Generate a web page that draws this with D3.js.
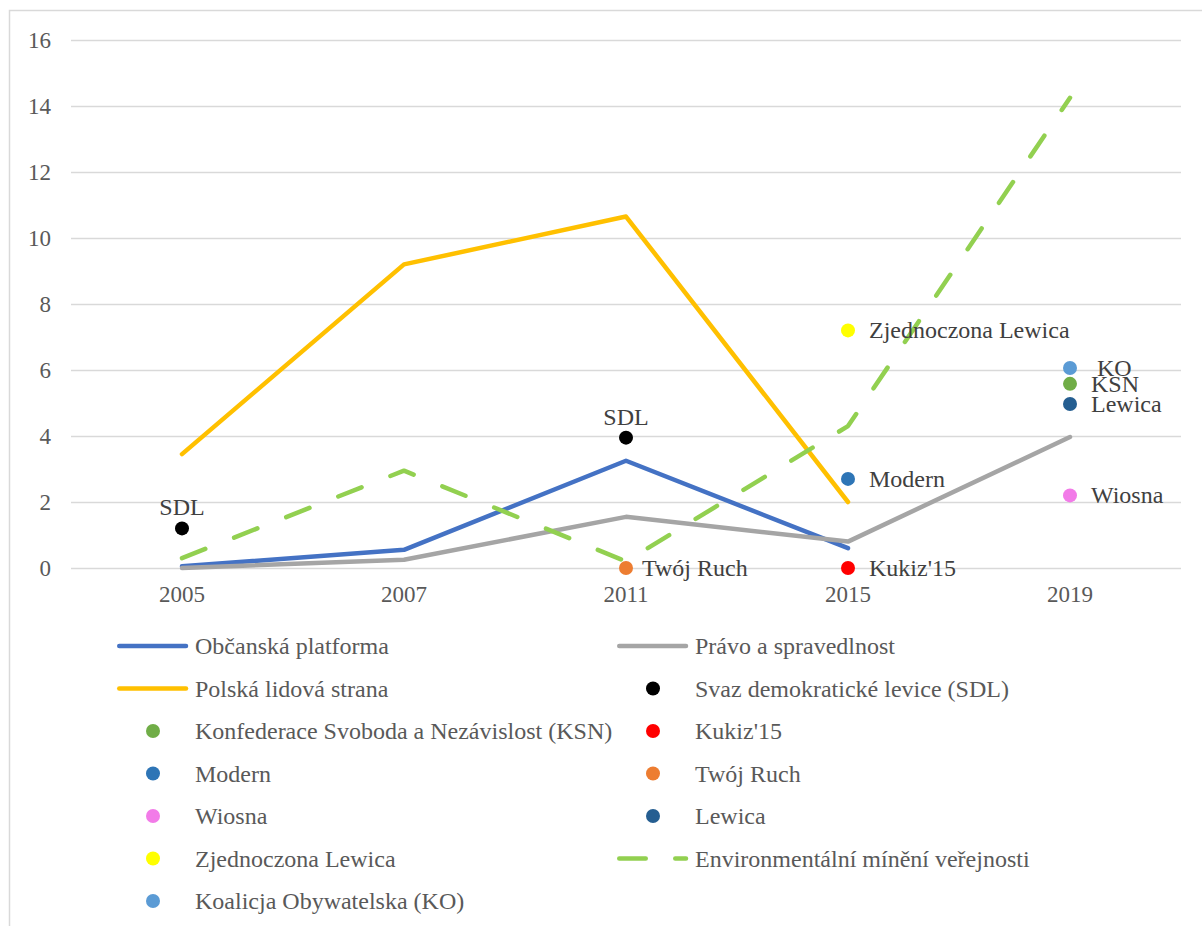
<!DOCTYPE html>
<html>
<head>
<meta charset="utf-8">
<script src="https://cdnjs.cloudflare.com/ajax/libs/d3/7.8.5/d3.min.js"></script>
<style>
  html, body { margin: 0; padding: 0; background: #fff; }
  svg { display: block; }
  text { font-family: "Liberation Serif", "Times New Roman", serif; white-space: pre; }
</style>
</head>
<body>
<svg id="chart" width="1202" height="926"></svg>
<script>
// ---------- DATA ----------
const categories = ["2005", "2007", "2011", "2015", "2019"];
const yTicks = [0, 2, 4, 6, 8, 10, 12, 14, 16];

const obcanskaPlatforma = [0.05, 0.55, 3.25, 0.6, null];
const pravoASpravedlnost = [0.0, 0.25, 1.55, 0.8, 3.97];
const polskaLidovaStrana = [3.45, 9.2, 10.65, 2.0, null];
const environmentalni = [0.3, 2.95, 0.2, 4.3, 14.25];

const sdl = [1.2, null, 3.95, null, null];
const ksn = [null, null, null, null, 5.58];
const kukiz = [null, null, null, 0.0, null];
const modern = [null, null, null, 2.7, null];
const twojRuch = [null, null, 0.0, null, null];
const wiosna = [null, null, null, null, 2.2];
const lewica = [null, null, null, null, 4.97];
const zjednoczona = [null, null, null, 7.2, null];
const ko = [null, null, null, null, 6.06];

const legendNames = [
  "Občanská platforma", "Právo a spravedlnost",
  "Polská lidová strana", "Svaz demokratické levice (SDL)",
  "Konfederace Svoboda a Nezávislost (KSN)", "Kukiz'15",
  "Modern", "Twój Ruch",
  "Wiosna", "Lewica",
  "Zjednoczona Lewica", "Environmentální mínění veřejnosti",
  "Koalicja Obywatelska (KO)"
];

// point series labels
const pointLabels = {
  sdl: "SDL", ksn: "KSN", kukiz: "Kukiz'15", modern: "Modern", twojRuch: "Twój Ruch",
  wiosna: "Wiosna", lewica: "Lewica", zjednoczona: "Zjednoczona Lewica", ko: "\u00a0KO"
};

// ---------- STYLE ----------
const colors = {
  obcanska: "#4472C4", pravo: "#A5A5A5", polska: "#FFC000", env: "#92D050",
  sdl: "#000000", ksn: "#70AD47", kukiz: "#FF0000", modern: "#2E75B6", twojRuch: "#ED7D31",
  wiosna: "#F27BE8", lewica: "#255E91", zjednoczona: "#FFFF00", ko: "#5B9BD5"
};

const svg = d3.select("#chart");
const plot = { left: 71, right: 1181, top: 40, bottom: 568 };

// border
svg.append("rect")
  .attr("x", 9.5).attr("y", 10.5).attr("width", 1220).attr("height", 940)
  .attr("fill", "#fff").attr("stroke", "#d9d9d9").attr("stroke-width", 1.5);

const x = d3.scaleBand().domain(categories).range([plot.left, plot.right]).padding(0);
const y = d3.scaleLinear().domain([0, 16]).range([plot.bottom, plot.top]);
const cx = c => x(c) + x.bandwidth() / 2;

// gridlines + y axis
const yAxis = d3.axisLeft(y).tickValues(yTicks).tickSize(-(plot.right - plot.left)).tickPadding(20);
const gy = svg.append("g").attr("transform", `translate(${plot.left},0)`).call(yAxis);
gy.select(".domain").remove();
gy.selectAll(".tick line").attr("stroke", "#d9d9d9").attr("stroke-width", 1.5);
gy.selectAll(".tick text").attr("fill", "#595959").attr("font-size", 23);

// x axis
const xAxis = d3.axisBottom(x).tickSize(0).tickPadding(18);
const gx = svg.append("g").attr("transform", `translate(0,${plot.bottom})`).call(xAxis);
gx.select(".domain").remove();
gx.selectAll(".tick text").attr("fill", "#595959").attr("font-size", 23);

// lines
const line = d3.line()
  .defined(d => d.v !== null)
  .x(d => cx(d.c)).y(d => y(d.v));
const toPts = arr => categories.map((c, i) => ({ c, v: arr[i] }));

function drawLine(arr, color, dashed) {
  const p = svg.append("path")
    .datum(toPts(arr))
    .attr("d", line)
    .attr("fill", "none")
    .attr("stroke", color)
    .attr("stroke-width", 4.5)
    .attr("stroke-linejoin", "round")
    .attr("stroke-linecap", "round");
  if (dashed) p.attr("stroke-dasharray", "25 31");
}
drawLine(obcanskaPlatforma, colors.obcanska);
drawLine(pravoASpravedlnost, colors.pravo);
drawLine(polskaLidovaStrana, colors.polska);

// points
const pointSeries = [
  { key: "sdl", data: sdl, pos: "top", dx: 0 },
  { key: "ksn", data: ksn, pos: "right", dx: 21 },
  { key: "kukiz", data: kukiz, pos: "right", dx: 21 },
  { key: "modern", data: modern, pos: "right", dx: 21 },
  { key: "twojRuch", data: twojRuch, pos: "right", dx: 16 },
  { key: "wiosna", data: wiosna, pos: "right", dx: 21 },
  { key: "lewica", data: lewica, pos: "right", dx: 21 },
  { key: "zjednoczona", data: zjednoczona, pos: "right", dx: 21 },
  { key: "ko", data: ko, pos: "right", dx: 21 }
];
const ptsG = svg.append("g");
pointSeries.forEach(s => {
  const pts = toPts(s.data).filter(d => d.v !== null);
  ptsG.selectAll(null).data(pts).enter().append("circle")
    .attr("cx", d => cx(d.c)).attr("cy", d => y(d.v)).attr("r", 7)
    .attr("fill", colors[s.key]);
});

drawLine(environmentalni, colors.env, true);

// data labels
const lblG = svg.append("g");
pointSeries.forEach(s => {
  const pts = toPts(s.data).filter(d => d.v !== null);
  lblG.selectAll(null).data(pts).enter().append("text")
    .attr("x", d => s.pos === "top" ? cx(d.c) : cx(d.c) + s.dx)
    .attr("y", d => s.pos === "top" ? y(d.v) - 21 : y(d.v))
    .attr("text-anchor", s.pos === "top" ? "middle" : "start")
    .attr("dominant-baseline", "central")
    .attr("fill", "#404040").attr("font-size", 24)
    .text(pointLabels[s.key]);
});

// legend
const legendItems = [
  { name: legendNames[0], type: "line", color: colors.obcanska },
  { name: legendNames[1], type: "line", color: colors.pravo },
  { name: legendNames[2], type: "line", color: colors.polska },
  { name: legendNames[3], type: "dot", color: colors.sdl },
  { name: legendNames[4], type: "dot", color: colors.ksn },
  { name: legendNames[5], type: "dot", color: colors.kukiz },
  { name: legendNames[6], type: "dot", color: colors.modern },
  { name: legendNames[7], type: "dot", color: colors.twojRuch },
  { name: legendNames[8], type: "dot", color: colors.wiosna },
  { name: legendNames[9], type: "dot", color: colors.lewica },
  { name: legendNames[10], type: "dot", color: colors.zjednoczona },
  { name: legendNames[11], type: "dash", color: colors.env },
  { name: legendNames[12], type: "dot", color: colors.ko }
];
const colX = [117, 617];
const rowY0 = 646, rowStep = 42.5;
const lg = svg.append("g");
legendItems.forEach((it, i) => {
  const col = i % 2, row = Math.floor(i / 2);
  const x0 = colX[col], yy = rowY0 + row * rowStep;
  const g = lg.append("g").attr("transform", `translate(${x0},${yy})`);
  if (it.type === "dot") {
    g.append("circle").attr("cx", 36).attr("cy", 0).attr("r", 7).attr("fill", it.color);
  } else {
    const l = g.append("line").attr("x1", 2.25).attr("x2", 69).attr("y1", 0).attr("y2", 0)
      .attr("stroke", it.color).attr("stroke-width", 4.5).attr("stroke-linecap", "round");
    if (it.type === "dash") l.attr("stroke-dasharray", "26.5 29.5");
  }
  g.append("text").attr("x", 78).attr("y", 0).attr("dominant-baseline", "central")
    .attr("fill", "#595959").attr("font-size", 24).text(it.name);
});
</script>
</body>
</html>
